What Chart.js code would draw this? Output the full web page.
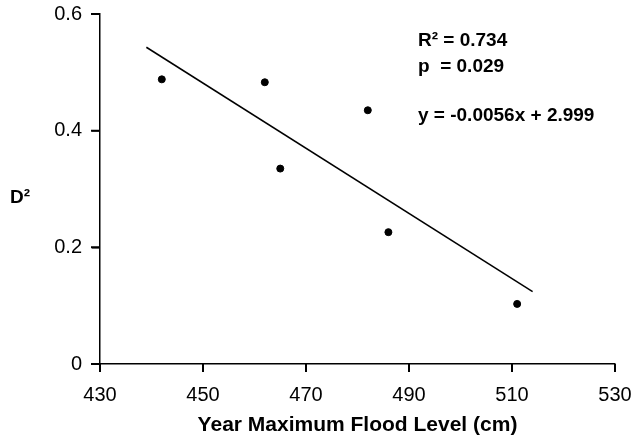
<!DOCTYPE html>
<html>
<head>
<meta charset="utf-8">
<script src="https://cdn.jsdelivr.net/npm/chart.js@4.4.0/dist/chart.umd.min.js"></script>
<style>
  html, body { margin: 0; padding: 0; background: #fff; }
  #wrap { width: 633px; height: 442px; }
</style>
</head>
<body>
<div id="wrap"><canvas id="floodChart"></canvas></div>
<script>
// observed points
const floodLevel = [442, 462, 482, 465, 486, 511];
const dSquared = [0.488, 0.483, 0.435, 0.335, 0.226, 0.103];

// fitted line end points
const fitX = [439, 514];
const fitY = [0.543, 0.124];

const xTicks = [430, 450, 470, 490, 510, 530];
const yTicks = [0, 0.2, 0.4, 0.6];

const statLines = ["R\u00b2 = 0.734", "p  = 0.029", "", "y = -0.0056x + 2.999"];

const textPlugin = {
    id: "statText",
    afterDraw(chart) {
        const ctx = chart.ctx;
        ctx.save();
        ctx.fillStyle = "#000";
        ctx.font = "bold 19px 'Liberation Sans', Arial, sans-serif";
        ctx.textBaseline = "middle";
        ctx.textAlign = "left";
        const ys = [41, 67, 92, 116];
        statLines.forEach((t, i) => {
            if (t) ctx.fillText(t, 418, ys[i]);
        });
        // y axis label, horizontal
        ctx.fillText("D\u00b2", 10, 198);

        // outward tick marks
        const xs = chart.scales.x, ysc = chart.scales.y;
        const area = chart.chartArea;
        ctx.strokeStyle = "#000";
        ctx.lineWidth = 2;
        ctx.beginPath();
        xTicks.forEach(v => {
            const px = xs.getPixelForValue(v);
            ctx.moveTo(px, area.bottom);
            ctx.lineTo(px, area.bottom + 8);
        });
        yTicks.forEach(v => {
            const py = ysc.getPixelForValue(v);
            ctx.moveTo(area.left, py);
            ctx.lineTo(area.left - 9, py);
        });
        ctx.stroke();
        ctx.restore();
    }
};

const gridOpts = {
    drawOnChartArea: false,
    drawTicks: true,
    tickLength: 8,
    color: "#000",
    tickColor: "#000",
    tickWidth: 1.5,
    lineWidth: 1.5
};

const ctx = document.getElementById("floodChart").getContext("2d");
new Chart(ctx, {
    type: "scatter",
    data: {
        datasets: [
            {
                label: "D2",
                data: floodLevel.map((x, i) => ({ x: x, y: dSquared[i] })),
                backgroundColor: "#000",
                borderColor: "#000",
                pointRadius: 3.5,
                pointHoverRadius: 3.5
            },
            {
                label: "fit",
                type: "line",
                data: fitX.map((x, i) => ({ x: x, y: fitY[i] })),
                borderColor: "#000",
                borderWidth: 1.5,
                pointRadius: 0,
                fill: false
            }
        ]
    },
    options: {
        responsive: true,
        maintainAspectRatio: false,
        animation: false,
        layout: { padding: { top: 14, right: 18, left: 0, bottom: 0 } },
        plugins: {
            legend: { display: false },
            tooltip: { enabled: false }
        },
        scales: {
            x: {
                type: "linear",
                min: 430,
                max: 530,
                afterBuildTicks: axis => { axis.ticks = xTicks.map(v => ({ value: v })); },
                afterFit: axis => { axis.height = 78; axis.paddingRight = 0; axis.paddingLeft = 0; },
                grid: gridOpts,
                border: { color: "#000", width: 1.5 },
                ticks: {
                    color: "#000",
                    padding: 11,
                    font: { family: "'Liberation Sans', Arial, sans-serif", size: 20 }
                },
                title: {
                    display: true,
                    text: "Year Maximum Flood Level (cm)",
                    color: "#000",
                    padding: { top: 7 },
                    font: { family: "'Liberation Sans', Arial, sans-serif", size: 21, weight: "bold" }
                }
            },
            y: {
                min: 0,
                max: 0.6,
                afterBuildTicks: axis => { axis.ticks = yTicks.map(v => ({ value: v })); },
                afterFit: axis => { axis.width = 100; axis.paddingTop = 0; },
                grid: gridOpts,
                border: { color: "#000", width: 1.5 },
                ticks: {
                    color: "#000",
                    padding: 10,
                    font: { family: "'Liberation Sans', Arial, sans-serif", size: 20 },
                    callback: v => (v === 0 ? "0" : v.toFixed(1))
                }
            }
        }
    },
    plugins: [textPlugin]
});
</script>
</body>
</html>
